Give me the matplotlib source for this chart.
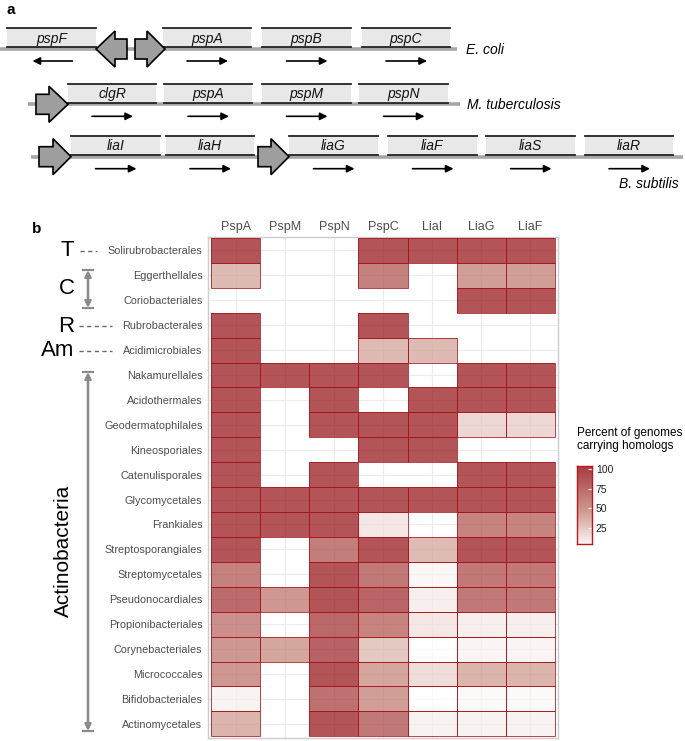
import numpy as np
import matplotlib
matplotlib.use('Agg')
import matplotlib.pyplot as plt
from matplotlib.colors import LinearSegmentedColormap, Normalize
from matplotlib.patches import Polygon, Rectangle

plt.rcParams['font.family'] = ['Liberation Sans', 'DejaVu Sans']

### data
nan = np.nan
proteins = ['PspA', 'PspM', 'PspN', 'PspC', 'LiaI', 'LiaG', 'LiaF']
orders = ['Solirubrobacterales', 'Eggerthellales', 'Coriobacteriales', 'Rubrobacterales',
          'Acidimicrobiales', 'Nakamurellales', 'Acidothermales', 'Geodermatophilales',
          'Kineosporiales', 'Catenulisporales', 'Glycomycetales', 'Frankiales',
          'Streptosporangiales', 'Streptomycetales', 'Pseudonocardiales', 'Propionibacteriales',
          'Corynebacteriales', 'Micrococcales', 'Bifidobacteriales', 'Actinomycetales']

PspA = [100, 35, nan, 100, 100, 100, 100, 100, 100, 100, 100, 100, 100, 70, 85, 60, 55, 55, 6, 38]
PspM = [nan, nan, nan, nan, nan, 100, nan, nan, nan, nan, 100, 100, nan, nan, 55, nan, 45, nan, nan, nan]
PspN = [nan, nan, nan, nan, nan, 100, 100, 100, nan, 100, 100, 100, 72, 100, 100, 86, 90, 100, 80, 100]
PspC = [100, 70, nan, 100, 35, 100, nan, 100, 100, nan, 100, 12, 100, 75, 88, 68, 28, 45, 50, 75]
LiaI = [100, nan, nan, nan, 35, nan, 100, 100, 100, nan, 100, nan, 34, 4, 8, 12, 0, 17, 0, 7]
LiaG = [100, 50, 100, nan, nan, 100, 100, 20, nan, 100, 100, 68, 100, 76, 75, 8, 5, 38, 3, 7]
LiaF = [100, 50, 100, nan, nan, 100, 100, 20, nan, 100, 100, 68, 100, 76, 75, 8, 5, 38, 3, 7]
valeurs = np.array([PspA, PspM, PspN, PspC, LiaI, LiaG, LiaF]).T

legende_ticks = [25, 50, 75, 100]

# operons (panel a)
ecoli_genes = ['pspF', 'pspA', 'pspB', 'pspC']
ecoli_sens = [-1, 1, 1, 1]
mtb_genes = ['clgR', 'pspA', 'pspM', 'pspN']
mtb_sens = [1, 1, 1, 1]
bsu_genes = ['liaI', 'liaH', 'liaG', 'liaF', 'liaS', 'liaR']
bsu_sens = [1, 1, 1, 1, 1, 1]

### layout (pixels)
W, H = 685, 741
ecoli_x = [(7, 96), (163, 251), (262, 351), (362, 450)]
mtb_x = [(68, 156), (164, 252), (262, 351), (359, 448)]
bsu_x = [(71, 160), (166, 254), (289, 378), (388, 477), (486, 575), (585, 673)]
ecoli_prom = [(127, 115, 96), (135, 147, 165)]
mtb_prom = [(36, 49, 68)]
bsu_prom = [(39, 53, 71), (258, 271, 289)]

fig = plt.figure(figsize=(W/100, H/100), dpi=100)
ax0 = fig.add_axes([0, 0, 1, 1])
ax0.set_xlim(0, W)
ax0.set_ylim(H, 0)
ax0.axis('off')

def operon(ax, genes, sens, boites, proms, ligne_y, x_debut, x_fin):
    ax.plot([x_debut, x_fin], [ligne_y, ligne_y], color='#a6a6a6', lw=2.6, solid_capstyle='butt', zorder=1)
    bas = ligne_y - 1.8
    haut = bas - 19
    for g, sg, (xa, xb) in zip(genes, sens, boites):
        ax.add_patch(Rectangle((xa, haut), xb - xa, bas - haut, facecolor='#e8e8e8', edgecolor='none', zorder=2))
        ax.plot([xa, xb], [haut, haut], color='#222222', lw=1.3, zorder=3)
        ax.plot([xa, xb], [bas, bas], color='#222222', lw=1.3, zorder=3)
        xc = (xa + xb) / 2
        ax.text(xc, bas - 4.5, g, style='italic', fontsize=10, ha='center', va='baseline', color='#111111', zorder=4)
        ya = ligne_y + 12
        if sg > 0:
            depart, fin = xc - 20, xc + 21
        else:
            depart, fin = xc + 21, xc - 19
        ax.annotate('', xy=(fin, ya), xytext=(depart, ya),
                    arrowprops=dict(arrowstyle='-|>', color='black', lw=1.2,
                                    mutation_scale=11, shrinkA=0, shrinkB=0))
    for (x0, xh, xt) in proms:
        hs, hh = 10, 18
        pts = [(x0, ligne_y - hs), (xh, ligne_y - hs), (xh, ligne_y - hh), (xt, ligne_y),
               (xh, ligne_y + hh), (xh, ligne_y + hs), (x0, ligne_y + hs)]
        ax.add_patch(Polygon(pts, closed=True, facecolor='#9e9e9e', edgecolor='black', lw=1.2, zorder=5))

operon(ax0, ecoli_genes, ecoli_sens, ecoli_x, ecoli_prom, 49, 0, 457)
operon(ax0, mtb_genes, mtb_sens, mtb_x, mtb_prom, 104.3, 28, 460)
operon(ax0, bsu_genes, bsu_sens, bsu_x, bsu_prom, 156.7, 31, 683)

ax0.text(466, 50, 'E. coli', style='italic', fontsize=10, ha='left', va='center')
ax0.text(467, 105, 'M. tuberculosis', style='italic', fontsize=10, ha='left', va='center')
ax0.text(619, 184.5, 'B. subtilis', style='italic', fontsize=10, ha='left', va='center')

ax0.text(7, 10, 'a', fontsize=11, fontweight='bold', ha='left', va='center')
ax0.text(32, 229, 'b', fontsize=11, fontweight='bold', ha='left', va='center')

# groupes taxonomiques a gauche
ax0.text(67, 251, 'T', fontsize=16, ha='center', va='center')
ax0.plot([80, 97], [251, 251], color='#666666', lw=1, ls=(0, (3, 2.5)))
ax0.text(67, 289, 'C', fontsize=16, ha='center', va='center')
ax0.text(66, 326.5, 'R', fontsize=16, ha='center', va='center')
ax0.plot([79, 112], [326, 326], color='#666666', lw=1, ls=(0, (3, 2.5)))
ax0.text(58, 351, 'Am', fontsize=16, ha='center', va='center')
ax0.plot([79, 112], [351, 351], color='#666666', lw=1, ls=(0, (3, 2.5)))
ax0.text(63, 551, 'Actinobacteria', fontsize=15, ha='center', va='center', rotation=90)

def fleche(ax, x, y1, y2):
    ax.annotate('', xy=(x, y2), xytext=(x, y1),
                arrowprops=dict(arrowstyle='<|-|>', color='#8a8a8a', lw=1.8,
                                mutation_scale=9, shrinkA=0, shrinkB=0))
    ax.plot([x - 5, x + 5], [y1, y1], color='#8a8a8a', lw=1.6)
    ax.plot([x - 5, x + 5], [y2, y2], color='#8a8a8a', lw=1.6)

fleche(ax0, 88, 270, 308)
fleche(ax0, 88, 372, 731)

### heatmap (panel b)
cmap = LinearSegmentedColormap.from_list('rouge', [(0, '#ffffff'), (0.45, '#c48478'), (1, '#951218')])
norm = Normalize(vmin=0, vmax=100)

ax = fig.add_axes([208/W, (H - 738)/H, 350/W, 501.3/H])
nb_l, nb_c = len(orders), len(proteins)
ax.set_xlim(0.43, nb_c + 0.57)
ax.set_ylim(nb_l + 0.57, 0.45)
for k in range(nb_c):
    ax.axvline(k + 1, color='#ebebeb', lw=0.8, zorder=0)
for k in range(nb_l):
    ax.axhline(k + 1, color='#ebebeb', lw=0.8, zorder=0)
for i in range(nb_l):
    for j in range(nb_c):
        v = valeurs[i, j]
        if np.isnan(v):
            continue
        ax.add_patch(Rectangle((j + 0.5, i + 0.5), 1, 1, facecolor=cmap(norm(v)), alpha=0.72,
                               edgecolor='none', zorder=2))
        ax.add_patch(Rectangle((j + 0.5, i + 0.5), 1, 1, facecolor='none',
                               edgecolor='#a3151b', lw=0.7, alpha=0.8, zorder=3))

ax.set_xticks(range(1, nb_c + 1))
ax.set_xticklabels(proteins)
ax.set_yticks(range(1, nb_l + 1))
ax.set_yticklabels(orders)
ax.xaxis.tick_top()
ax.tick_params(axis='x', length=0, pad=3, labelsize=9, labelcolor='#4d4d4d')
ax.tick_params(axis='y', length=0, pad=4, labelsize=7.8, labelcolor='#4d4d4d')
for sp in ax.spines.values():
    sp.set_color('#cccccc')
    sp.set_linewidth(1)

# legende (barre de couleur faite a la main)
cax = fig.add_axes([577/W, (H - 544)/H, 14.7/W, 78/H])
bas_cb, haut_cb = 4, 104
grad = np.linspace(bas_cb, haut_cb, 200).reshape(-1, 1)
cax.imshow(grad, cmap=cmap, norm=norm, aspect='auto', origin='lower', alpha=0.8,
           extent=[0, 1, bas_cb, haut_cb])
cax.set_xlim(0, 1)
cax.set_ylim(bas_cb, haut_cb)
cax.set_xticks([])
cax.yaxis.tick_right()
cax.set_yticks(legende_ticks)
cax.tick_params(axis='y', length=3, width=0.8, color='white', direction='in', labelsize=7.5, pad=3, labelcolor='#222222')
for sp in cax.spines.values():
    sp.set_edgecolor('#c0161c')
    sp.set_linewidth(1)
ax0.text(577, 427, 'Percent of genomes\ncarrying homologs', fontsize=8.5, ha='left', va='top', linespacing=1.1)

fig.savefig('out.png', dpi=100)
